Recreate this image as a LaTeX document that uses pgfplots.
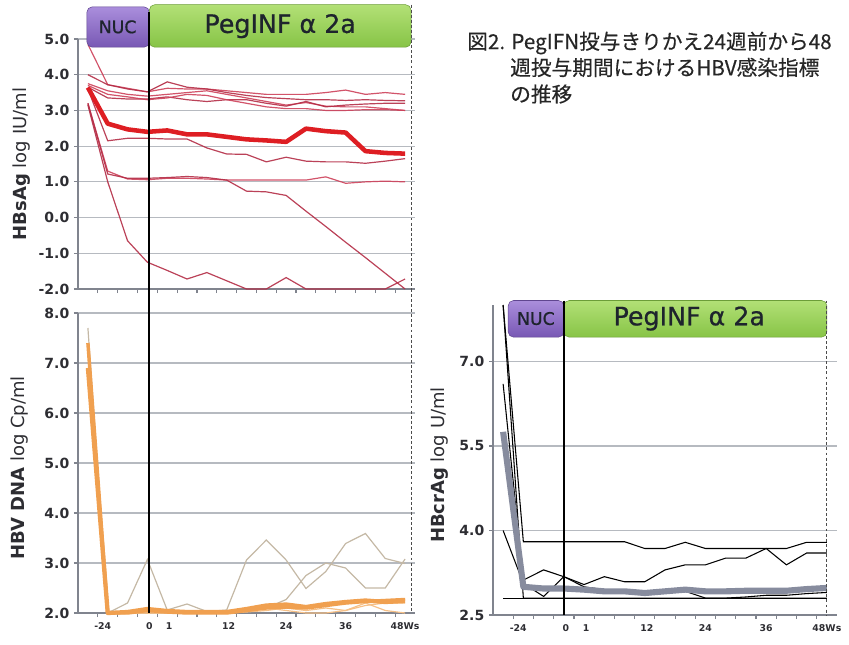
\documentclass[border=0pt]{standalone}
\usepackage{fontspec}
\usepackage{pgfplots}
\pgfplotsset{compat=1.18}
\setmainfont{DejaVu Sans}
\newfontfamily\cjk{Noto Sans CJK JP}[FakeBold=0.4]
\newfontfamily\boxfont{DejaVu Sans}[FakeBold=0.7]
\definecolor{axisgray}{RGB}{128,132,142}
\definecolor{gridgray}{RGB}{182,186,192}
\definecolor{labelgray}{RGB}{45,45,50}
\definecolor{redthick}{RGB}{222,30,35}
\definecolor{redthinA}{RGB}{205,65,90}
\definecolor{redthinB}{RGB}{180,45,70}
\definecolor{orangeT}{RGB}{240,160,80}
\definecolor{orangeL}{RGB}{246,192,135}
\definecolor{tanC}{RGB}{196,184,165}
\definecolor{grayT}{RGB}{135,140,158}
\definecolor{nucTop}{RGB}{170,142,220}
\definecolor{nucBot}{RGB}{120,88,180}
\definecolor{pegTop}{RGB}{178,224,118}
\definecolor{pegBot}{RGB}{135,196,70}
\definecolor{boxtext}{RGB}{30,36,45}
\pgfplotsset{
  mystyle/.style={
    scale only axis,
    axis lines=left,
    axis line style={-, line width=2.2pt, color=axisgray},
    xmin=-0.5, xmax=16.5,
    ymajorgrids, grid style={line width=0.9pt, color=gridgray},
    xtick={0.5,1.5,...,15.5}, xticklabels={},
    tick style={color=axisgray, line width=0.9pt},
    tick align=outside, major tick length=3pt,
    yticklabel style={font=\bfseries\fontsize{10.5}{12}\selectfont, text=labelgray},
    /pgf/number format/fixed,
    /pgf/number format/fixed zerofill,
    /pgf/number format/precision=1,
    /pgf/number format/assume math mode=true,
    clip=false,
  },
  xlab/.style={
    extra x ticks={0.75,3.1,4.1,7.1,10,13,16},
    extra x tick labels={-24,0,1,12,24,36,48Ws},
    extra x tick style={major tick length=0pt, grid=none,
      xticklabel style={font=\bfseries\fontsize{7}{8}\selectfont, text=labelgray, yshift=-4pt}},
  },
  thinred/.style={line width=0.9pt, color=redthinA, opacity=0.9},
  thinred2/.style={line width=0.9pt, color=redthinB, opacity=0.9},
}
\begin{document}
\begin{tikzpicture}
\useasboundingbox (0,0) rectangle (636.75pt,-483.75pt);

% ---------------- Top-left: HBsAg ----------------
\begin{axis}[mystyle, at={(58.5pt,-216.75pt)}, anchor=south west,
  width=252.75pt, height=187.5pt, ymin=-2, ymax=5, ytick={-2,-1,0,1,2,3,4,5}]
\addplot[thinred] coordinates {(0,4.85) (1,3.72) (2,3.62) (3,3.52) (4,3.62) (5,3.6) (6,3.6) (7,3.55) (8,3.5) (9,3.45) (10,3.45) (11,3.45) (12,3.5) (13,3.57) (14,3.45) (15,3.5) (16,3.45)};
\addplot[thinred2] coordinates {(0,4.0) (1,3.72) (2,3.6) (3,3.52) (4,3.8) (5,3.65) (6,3.6) (7,3.5) (8,3.42) (9,3.36) (10,3.33) (11,3.3) (12,3.3) (13,3.28) (14,3.3) (15,3.28) (16,3.27)};
\addplot[thinred] coordinates {(0,3.75) (1,3.55) (2,3.45) (3,3.4) (4,3.45) (5,3.5) (6,3.55) (7,3.45) (8,3.35) (9,3.25) (10,3.15) (11,3.22) (12,3.12) (13,3.1) (14,3.1) (15,3.05) (16,3.0)};
\addplot[thinred2] coordinates {(0,3.65) (1,3.35) (2,3.32) (3,3.32) (4,3.38) (5,3.3) (6,3.25) (7,3.3) (8,3.3) (9,3.2) (10,3.12) (11,3.25) (12,3.1) (13,3.15) (14,3.18) (15,3.2) (16,3.2)};
\addplot[thinred] coordinates {(0,3.7) (1,3.45) (2,3.38) (3,3.3) (4,3.35) (5,3.45) (6,3.42) (7,3.3) (8,3.2) (9,3.1) (10,3.05) (11,3.05) (12,3.0) (13,3.0) (14,3.02) (15,3.02) (16,3.0)};
\addplot[thinred2] coordinates {(0,3.6) (1,2.15) (2,2.22) (3,2.22) (4,2.2) (5,2.2) (6,1.95) (7,1.78) (8,1.77) (9,1.56) (10,1.69) (11,1.58) (12,1.56) (13,1.56) (14,1.52) (15,1.58) (16,1.65)};
\addplot[thinred] coordinates {(0,3.2) (1,1.3) (2,1.08) (3,1.06) (4,1.1) (5,1.1) (6,1.08) (7,1.05) (8,1.05) (9,1.05) (10,1.05) (11,1.05) (12,1.14) (13,0.96) (14,1.0) (15,1.02) (16,1.0)};
\addplot[thinred2] coordinates {(0,3.2) (1,1.22) (2,1.1) (3,1.1) (4,1.12) (5,1.15) (6,1.12) (7,1.05) (8,0.74) (9,0.72) (10,0.62) (11,0.18) (12,-0.25) (13,-0.69) (14,-1.12) (15,-1.56) (16,-2.0)};
\addplot[thinred2] coordinates {(0,3.15) (1,1.0) (2,-0.65) (3,-1.25) (4,-1.48) (5,-1.72) (6,-1.54) (7,-1.77) (8,-2.0) (9,-2.0) (10,-1.68) (11,-2.0) (12,-2.0) (13,-2.0) (14,-2.0) (15,-2.0) (16,-1.72)};
\addplot[line width=3.4pt, color=redthick, line join=round] coordinates {(0,3.64) (1,2.63) (2,2.47) (3,2.40) (4,2.44) (5,2.33) (6,2.33) (7,2.26) (8,2.19) (9,2.16) (10,2.12) (11,2.49) (12,2.42) (13,2.38) (14,1.86) (15,1.81) (16,1.79)};
% boxes
\path[top color=nucTop, bottom color=nucBot, draw=nucBot!80!black, rounded corners=4pt] (axis cs:-0.05,4.77) rectangle (axis cs:3.1,5.9);
\path[top color=pegTop, bottom color=pegBot, draw=pegBot!80!black, rounded corners=4pt] (axis cs:3.1,4.77) rectangle (axis cs:16.3,5.96);
\node[font=\boxfont\fontsize{13}{13}\selectfont, text=boxtext] at (axis cs:1.5,5.34) {NUC};
\node[font=\boxfont\fontsize{19}{19}\selectfont, text=boxtext] at (axis cs:9.7,5.36) {PegINF α 2a};
\draw[line width=1.3pt, black] (axis cs:3.1,5.75) -- (axis cs:3.1,-2);
\draw[line width=0.8pt, color=black!70, dash pattern=on 2.2pt off 1.6pt] (axis cs:16.3,5.96) -- (axis cs:16.3,-2);
\end{axis}

% ---------------- Bottom-left: HBV DNA ----------------
\begin{axis}[mystyle, xlab, at={(58.5pt,-459.75pt)}, anchor=south west,
  width=252.75pt, height=225pt, ymin=2, ymax=8, ytick={2,3,4,5,6,7,8}]
\addplot[line width=0.9pt, color=tanC] coordinates {(0,7.7) (1,2.0) (2,2.2) (3,3.07) (4,2.06) (5,2.18) (6,2.03) (7,2.06) (8,3.06) (9,3.46) (10,3.06) (11,2.49) (12,2.83) (13,3.39) (14,3.59) (15,3.09) (16,2.99)};
\addplot[line width=0.9pt, color=tanC] coordinates {(1,2.0) (2,2.0) (3,2.0) (4,2.0) (5,2.0) (6,2.0) (7,2.0) (8,2.05) (9,2.1) (10,2.27) (11,2.75) (12,3.0) (13,2.9) (14,2.5) (15,2.5) (16,3.08)};
\addplot[line width=0.9pt, color=orangeL] coordinates {(1,2.0) (2,2.0) (3,2.0) (4,2.0) (5,2.0) (6,2.0) (7,2.0) (8,2.05) (9,2.1) (10,2.05) (11,2.0) (12,2.0) (13,2.05) (14,2.2) (15,2.05) (16,2.0)};
\addplot[line width=0.9pt, color=orangeL] coordinates {(1,2.0) (2,2.0) (3,2.0) (4,2.0) (5,2.0) (6,2.0) (7,2.0) (8,2.02) (9,2.05) (10,2.1) (11,2.05) (12,2.1) (13,2.05) (14,2.15) (15,2.2) (16,2.2)};
\addplot[line width=2.6pt, color=orangeT, line join=round] coordinates {(0,7.4) (1,2.0) (2,2.0) (3,2.05) (4,2.02) (5,2.0) (6,2.0) (7,2.0) (8,2.05) (9,2.1) (10,2.12) (11,2.1) (12,2.15) (13,2.2) (14,2.23) (15,2.25) (16,2.27)};
\addplot[line width=3.2pt, color=orangeT, line join=round] coordinates {(0,6.9) (1,2.0) (2,2.02) (3,2.08) (4,2.04) (5,2.02) (6,2.02) (7,2.02) (8,2.08) (9,2.15) (10,2.17) (11,2.12) (12,2.18) (13,2.22) (14,2.25) (15,2.22) (16,2.24)};
\draw[line width=1.3pt, black] (axis cs:3.1,8.48) -- (axis cs:3.1,2);
\draw[line width=0.8pt, color=black!70, dash pattern=on 2.2pt off 1.6pt] (axis cs:16.3,8.48) -- (axis cs:16.3,2);
\end{axis}

% ---------------- Right: HBcrAg ----------------
\begin{axis}[mystyle, xlab, at={(369.75pt,-461.25pt)}, anchor=south west,
  width=258pt, height=232.5pt, ymin=2.5, ymax=8, ytick={2.5,4,5.5,7}]
\addplot[line width=0.8pt, black] coordinates {(0,8.0) (1,3.8) (2,3.8) (3,3.8) (4,3.8) (5,3.8) (6,3.8) (7,3.68) (8,3.68) (9,3.79) (10,3.68) (11,3.68) (12,3.68) (13,3.68) (14,3.68) (15,3.79) (16,3.79)};
\addplot[line width=0.8pt, black] coordinates {(0,8.0) (1,2.8) (2,2.8) (3,2.8) (4,2.8) (5,2.8) (6,2.8) (7,2.8) (8,2.8) (9,2.8) (10,2.8) (11,2.8) (12,2.8) (13,2.8) (14,2.8) (15,2.8) (16,2.8)};
\addplot[line width=0.8pt, black] coordinates {(0,2.8) (16,2.8)};
\addplot[line width=0.8pt, black] coordinates {(0,6.6) (1,3.12) (2,3.3) (3,3.18) (4,3.04) (5,3.18) (6,3.09) (7,3.09) (8,3.3) (9,3.39) (10,3.39) (11,3.51) (12,3.51) (13,3.68) (14,3.39) (15,3.6) (16,3.6)};
\addplot[line width=0.8pt, black] coordinates {(0,4.0) (1,3.06) (2,2.83) (3,3.18) (4,3.0) (5,2.95) (6,2.93) (7,2.85) (8,2.9) (9,2.92) (10,2.8) (11,2.8) (12,2.82) (13,2.85) (14,2.85) (15,2.88) (16,2.9)};
\addplot[line width=4.6pt, color=grayT, line join=round] coordinates {(0,5.75) (1,3.0) (2,2.97) (3,2.97) (4,2.95) (5,2.92) (6,2.92) (7,2.89) (8,2.92) (9,2.95) (10,2.92) (11,2.92) (12,2.93) (13,2.93) (14,2.93) (15,2.96) (16,2.98)};
\path[top color=nucTop, bottom color=nucBot, draw=nucBot!80!black, rounded corners=4pt] (axis cs:0.25,7.43) rectangle (axis cs:3.0,8.08);
\path[top color=pegTop, bottom color=pegBot, draw=pegBot!80!black, rounded corners=4pt] (axis cs:3.0,7.43) rectangle (axis cs:16.0,8.08);
\node[font=\boxfont\fontsize{13}{13}\selectfont, text=boxtext] at (axis cs:1.62,7.76) {NUC};
\node[font=\boxfont\fontsize{19}{19}\selectfont, text=boxtext] at (axis cs:9.2,7.76) {PegINF α 2a};
\draw[line width=1.3pt, black] (axis cs:3.0,8.08) -- (axis cs:3.0,2.5);
\draw[line width=0.8pt, color=black!70, dash pattern=on 2.2pt off 1.6pt] (axis cs:16.0,8.08) -- (axis cs:16.0,2.5);
\end{axis}

% ---------------- y labels ----------------
\node[rotate=90, font=\fontsize{13.5}{14}\selectfont, text=labelgray] at (16.5pt,-123pt) {\textbf{HBsAg} log IU/ml};
\node[rotate=90, font=\fontsize{13.5}{14}\selectfont, text=labelgray] at (15pt,-351pt) {\textbf{HBV DNA} log Cp/ml};
\node[rotate=90, font=\fontsize{13.5}{14}\selectfont, text=labelgray] at (330pt,-348.75pt) {\textbf{HBcrAg} log U/ml};

% ---------------- title ----------------
\node[anchor=west, inner sep=0pt, font=\cjk\fontsize{15.5}{16}\selectfont, text=black!85] at (350.25pt,-32.25pt) {図2. PegIFN投与きりかえ24週前から48};
\node[anchor=west, inner sep=0pt, font=\cjk\fontsize{15.5}{16}\selectfont, text=black!85] at (382.5pt,-50.6pt) {週投与期間におけるHBV感染指標};
\node[anchor=west, inner sep=0pt, font=\cjk\fontsize{15.5}{16}\selectfont, text=black!85] at (382.5pt,-70.5pt) {の推移};
\end{tikzpicture}
\end{document}
